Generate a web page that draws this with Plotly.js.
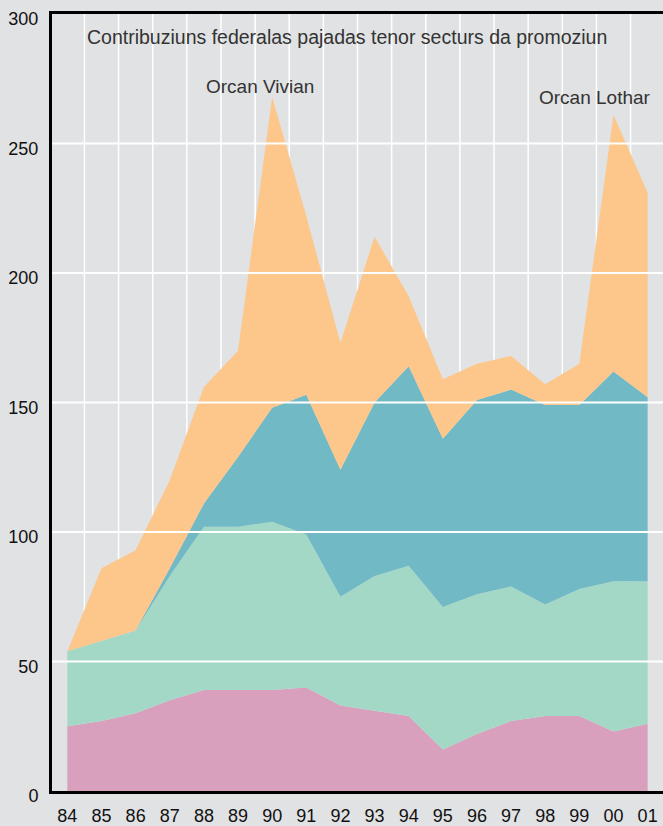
<!DOCTYPE html>
<html>
<head>
<meta charset="utf-8">
<script src="https://cdn.plot.ly/plotly-3.0.1.min.js"></script>
<style>
  html, body { margin: 0; padding: 0; background: #e1e2e4; }
  #chart { width: 663px; height: 826px; }
</style>
</head>
<body>
<div id="chart"></div>
<script>
// Years (tick labels)
const years = ["84","85","86","87","88","89","90","91","92","93","94","95","96","97","98","99","00","01"];
// Series values (millions), stacked bottom -> top
const seriesPink   = [25, 27, 30, 35, 39, 39, 39, 40, 33, 31, 29, 16, 22, 27, 29, 29, 23, 26];
const seriesGreen  = [29, 31, 32, 48, 63, 63, 65, 59, 42, 52, 58, 55, 54, 52, 43, 49, 58, 55];
const seriesTeal   = [ 0,  0,  0,  3,  9, 27, 44, 54, 49, 67, 77, 65, 75, 76, 77, 71, 81, 71];
const seriesOrange = [ 0, 28, 31, 34, 45, 41,120, 69, 49, 64, 27, 23, 14, 13,  8, 16, 99, 79];
const yTicks = [0, 50, 100, 150, 200, 250, 300];
const titleText = "Contribuziuns federalas pajadas tenor secturs da promoziun";
const notes = [
  {label: "Orcan Vivian", year: "90"},
  {label: "Orcan Lothar", year: "00"}
];

const xIdx = years.map((_, i) => i);
const colors = ["#d8a0bc", "#a3d8c6", "#70b9c5", "#fdc68a"];
const all = [seriesPink, seriesGreen, seriesTeal, seriesOrange];

const traces = all.map((s, k) => ({
  type: "scatter", mode: "lines", x: xIdx, y: s,
  stackgroup: "one", line: {width: 0, color: colors[k]},
  fillcolor: colors[k], hoverinfo: "skip", showlegend: false
}));

const shapes = [];
// vertical grid between categories (below traces)
for (let i = 0; i < years.length - 1; i++) {
  shapes.push({type: "line", xref: "x", yref: "paper", x0: i + 0.5, x1: i + 0.5, y0: 0, y1: 1,
    line: {color: "#ffffff", width: 1.5}, layer: "below"});
}
// horizontal grid above traces
yTicks.filter(v => v > 0 && v < 300).forEach(v => {
  shapes.push({type: "line", xref: "paper", yref: "y", x0: 0, x1: 1, y0: v, y1: v,
    line: {color: "#ffffff", width: 2}, layer: "above"});
});

const txtFont = {family: "Liberation Sans, Arial, sans-serif", size: 19.5, color: "#333333"};
const annotations = [
  {text: titleText, xref: "paper", yref: "paper", x: 0.483, y: 0.97, xanchor: "center", yanchor: "middle",
   showarrow: false, font: txtFont}
];
notes.forEach((n, j) => {
  const i = years.indexOf(n.year);
  annotations.push({text: n.label, xref: "x", yref: "paper",
    x: j === 0 ? i - 0.35 : i - 0.55, y: j === 0 ? 0.907 : 0.893,
    xanchor: "center", yanchor: "middle", showarrow: false,
    font: {family: txtFont.family, size: 19, color: txtFont.color}});
});

const layout = {
  width: 663, height: 826,
  margin: {l: 52, r: 0, t: 14, b: 35, pad: 0},
  paper_bgcolor: "#e1e2e4", plot_bgcolor: "#e1e2e4",
  showlegend: false,
  font: {family: "Liberation Sans, Arial, sans-serif", size: 18, color: "#111111"},
  xaxis: {
    range: [-0.45, 17.45], tickmode: "array", tickvals: xIdx, ticktext: years,
    showgrid: false, zeroline: false, showline: true, mirror: true,
    linecolor: "#000000", linewidth: 3, ticks: "", ticklabelstandoff: 6,
    fixedrange: true
  },
  yaxis: {
    range: [0, 300], tickmode: "array", tickvals: yTicks,
    showgrid: false, zeroline: false, showline: true, linecolor: "#000000", linewidth: 3,
    ticks: "", ticklabelstandoff: 7, ticklabelshift: 5, fixedrange: true
  },
  shapes: shapes,
  annotations: annotations
};

Plotly.newPlot("chart", traces, layout, {displayModeBar: false, staticPlot: true});
</script>
</body>
</html>
